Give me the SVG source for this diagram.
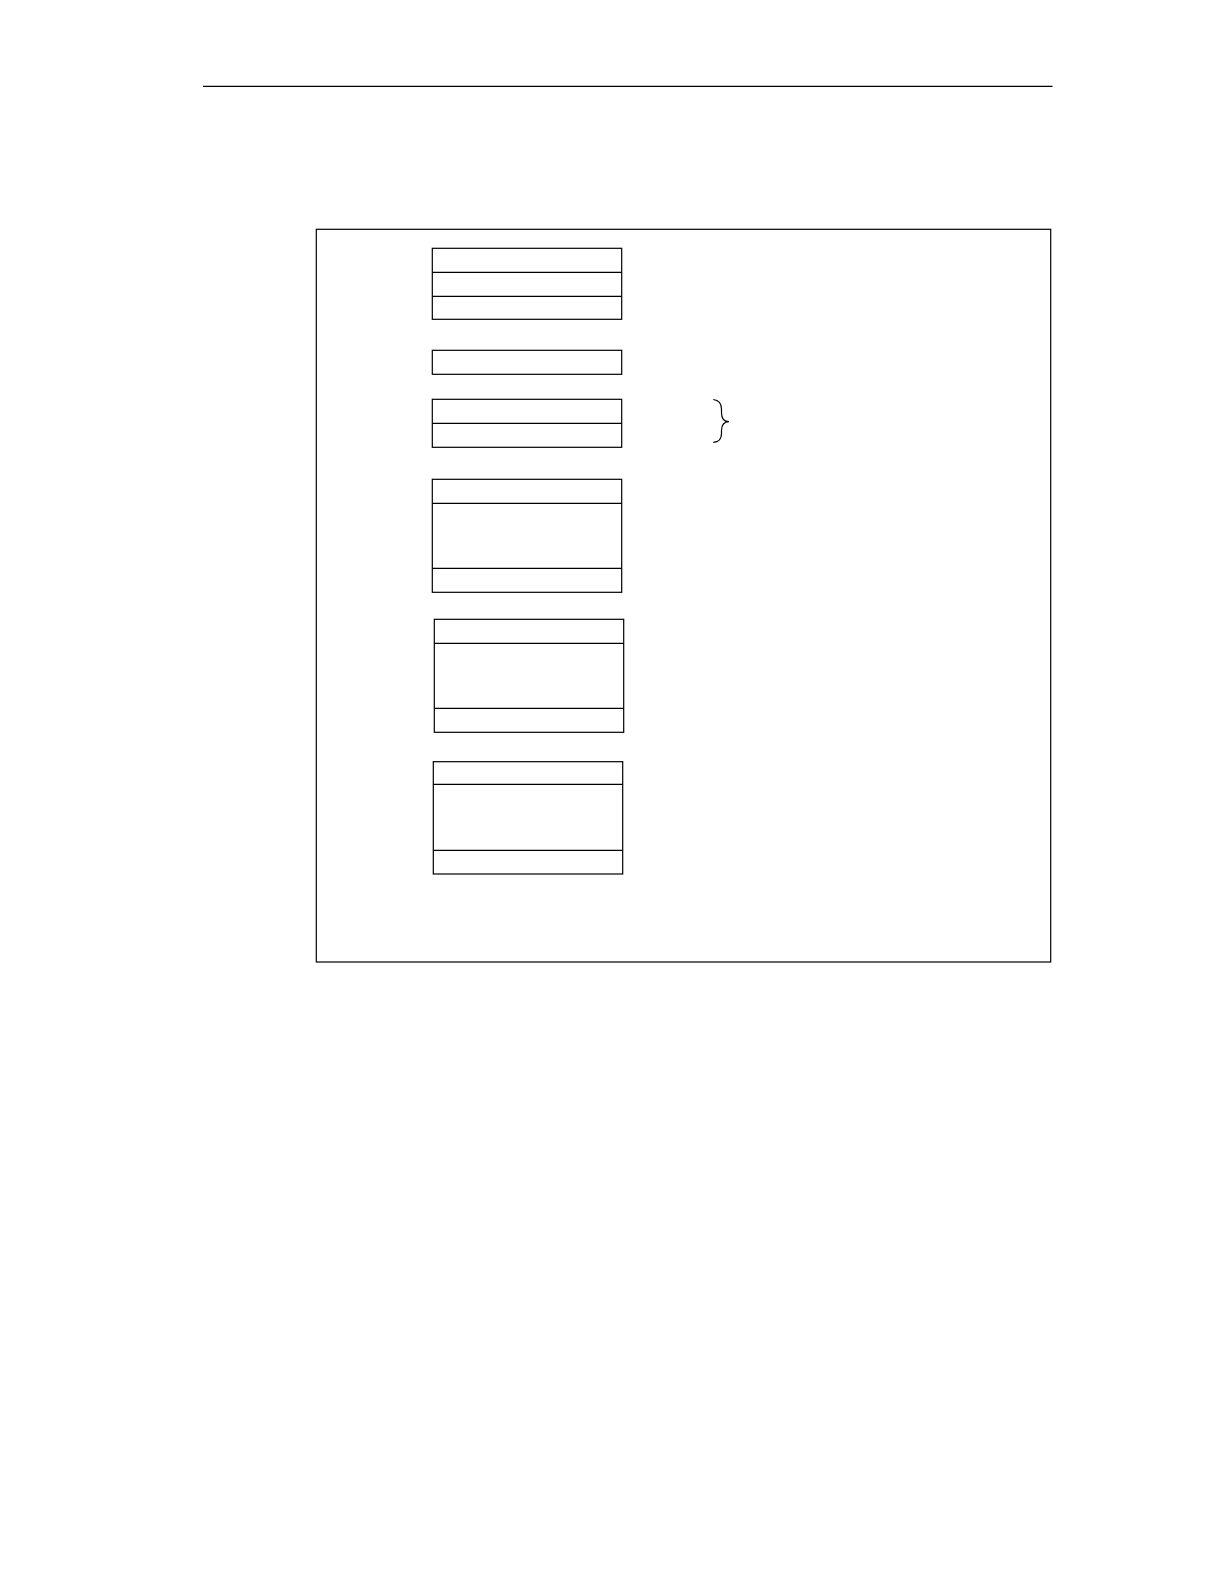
<svg xmlns="http://www.w3.org/2000/svg" width="1224" height="1584" viewBox="0 0 1224 1584">
<style>
.b{fill:#fff;stroke:#000;stroke-width:1.2}
.l{stroke:#000;stroke-width:1.2;fill:none}
</style>
<rect width="1224" height="1584" fill="#fff"/>
<line id="header-rule" class="l" x1="203" y1="86.3" x2="1052.5" y2="86.3"/>
<rect id="frame" class="b" x="316.3" y="229.3" width="734.4" height="732.7"/>
<g id="box1">
<rect class="b" x="432.3" y="248.3" width="189.4" height="71"/>
<line class="l" x1="432.3" y1="272.3" x2="621.7" y2="272.3"/>
<line class="l" x1="432.3" y1="296.3" x2="621.7" y2="296.3"/>
</g>
<g id="box2">
<rect class="b" x="432.3" y="350.3" width="189.4" height="24"/>
</g>
<g id="box3">
<rect class="b" x="432.3" y="399.3" width="189.4" height="48"/>
<line class="l" x1="432.3" y1="423.3" x2="621.7" y2="423.3"/>
</g>
<g id="brace">
<path class="l" d="M713.3,399.5 Q721.5,400.5 721.5,409 L721.5,413 Q721.5,421.5 729,421.7 Q721.5,422 721.5,430.5 L721.5,433.5 Q721.5,442 713.3,442.3"/>
</g>
<g id="box4">
<rect class="b" x="432.3" y="479.3" width="189.4" height="113"/>
<line class="l" x1="432.3" y1="503.3" x2="621.7" y2="503.3"/>
<line class="l" x1="432.3" y1="568.3" x2="621.7" y2="568.3"/>
</g>
<g id="box5">
<rect class="b" x="434.3" y="619.3" width="189.4" height="113"/>
<line class="l" x1="434.3" y1="643.3" x2="623.7" y2="643.3"/>
<line class="l" x1="434.3" y1="708.3" x2="623.7" y2="708.3"/>
</g>
<g id="box6">
<rect class="b" x="433.3" y="761.7" width="189.4" height="112.3"/>
<line class="l" x1="433.3" y1="784.3" x2="622.7" y2="784.3"/>
<line class="l" x1="433.3" y1="850.3" x2="622.7" y2="850.3"/>
</g>
</svg>
